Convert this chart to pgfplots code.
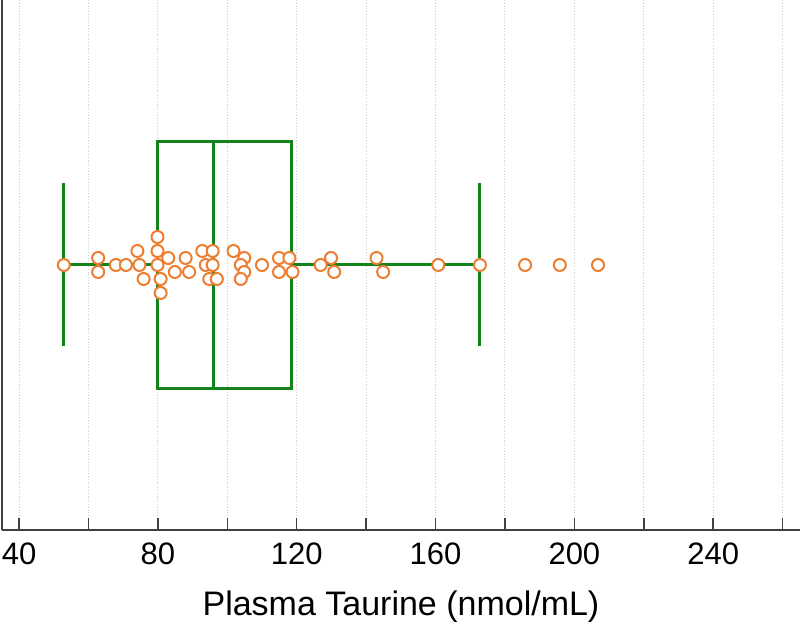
\documentclass[border=0pt]{standalone}
\usepackage{fontspec}
\setmainfont{Liberation Sans}
\usepackage{pgfplots}
\usepackage{pgfplotstable}
\pgfplotsset{compat=1.18}
\usepgfplotslibrary{statistics}

\definecolor{boxgreen}{HTML}{12821A}
\definecolor{dotorange}{HTML}{ED7D31}
\definecolor{axisgray}{HTML}{404040}
\definecolor{gridgray}{HTML}{CCCCCC}

% x = taurine value, y = display row (265 is the centre line, rows 7 apart)
\pgfplotstableread{
x y
52.9 265
62.8 272
62.8 258
67.9 265
70.8 265
74.1 279
74.7 265
75.9 251
79.9 293
79.9 279
79.9 265
80.8 251
80.8 237
83.0 272
84.9 258
88.0 272
89.0 258
92.8 279
95.8 279
93.8 265
95.8 265
94.8 251
97.0 251
101.8 279
104.9 272
103.9 265
104.9 258
103.9 251
110.0 265
114.9 272
117.9 272
114.9 258
118.8 258
126.9 265
129.9 272
130.8 258
143.0 272
144.9 258
160.8 265
172.8 265
185.8 265
195.8 265
206.8 265
}\taurine

\begin{document}
\begin{tikzpicture}
\begin{axis}[
  name=ax,
  scale only axis,
  width=399pt, height=265pt,
  xmin=35.1, xmax=265,
  ymin=0, ymax=530,
  axis lines=left,
  axis line style={-, draw=axisgray, line width=1.25pt},
  x axis line style={-}, y axis line style={-},
  xtick={40,60,...,260},
  xticklabels={40,,80,,120,,160,,200,,240,},
  ytick=\empty,
  xmajorgrids,
  grid style={gridgray, densely dotted, line width=0.5pt},
  major tick length=6pt,
  tick style={draw=axisgray, line width=0.75pt},
  tick align=inside,
  xticklabel style={font=\fontsize{15.5}{17}\selectfont, anchor=north, yshift=-3pt},
  /pgf/number format/assume math mode=true,
  xlabel={Plasma Taurine (nmol/mL)},
  xlabel style={font=\fontsize{17}{19}\selectfont,
    at={(axis description cs:0.5,0)}, anchor=base, yshift=-43pt},
  clip=false,
  boxplot/every box/.style={draw=boxgreen, line width=1.5pt},
  boxplot/every whisker/.style={draw=boxgreen, line width=1.5pt},
  boxplot/every median/.style={draw=boxgreen, line width=1.5pt},
]
\addplot[boxgreen, line width=1.5pt,
  boxplot prepared={
    lower whisker=52.9, lower quartile=80.0, median=95.9,
    upper quartile=118.6, upper whisker=172.8,
    draw position=265, box extend=247, whisker extend=163,
    draw direction=x},
] coordinates {};
\addplot[only marks, mark=*, mark size=3pt,
  mark options={draw=dotorange, fill=white, line width=1pt}]
  table[x=x, y=y] {\taurine};
\end{axis}
\pgfresetboundingbox
\path[use as bounding box] ([xshift=-1pt,yshift=-47pt]ax.south west) rectangle (ax.north east);
\end{tikzpicture}
\end{document}
